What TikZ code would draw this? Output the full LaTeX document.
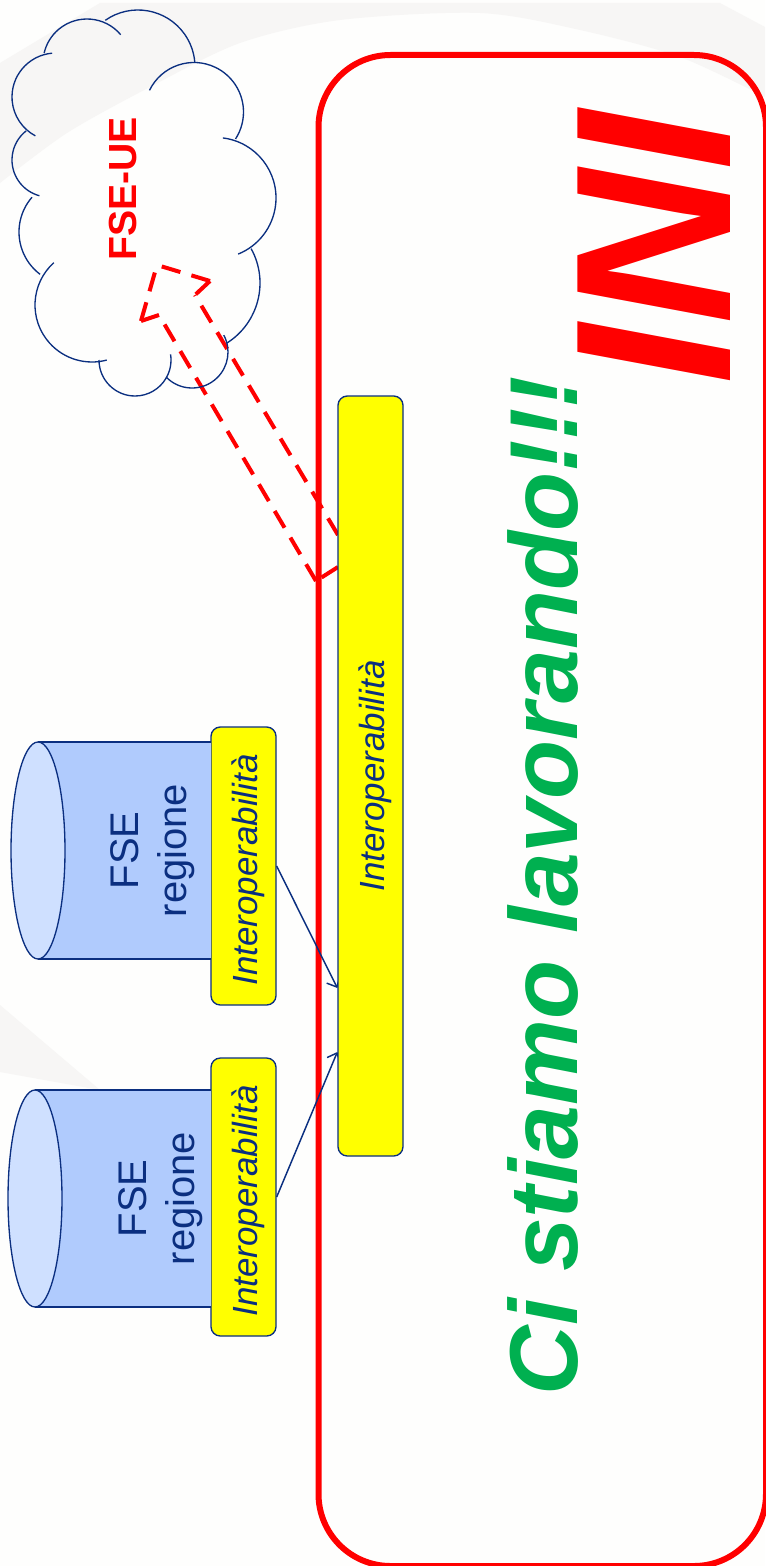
\documentclass[tikz,border=0pt]{standalone}
\usepackage{fontspec}
\setmainfont{Liberation Sans}
\usetikzlibrary{positioning,calc,arrows.meta,backgrounds}
\definecolor{navy}{HTML}{0B2F80}
\definecolor{swoosh}{HTML}{F7F6F5}
\definecolor{paper}{HTML}{FEFEFD}
\definecolor{cylbody}{HTML}{B0CBFD}
\definecolor{cylcap}{HTML}{CFE0FF}
\definecolor{workgreen}{HTML}{00B050}
\definecolor{boxyellow}{HTML}{FFFF00}
\definecolor{brightred}{HTML}{FF0000}
\tikzset{
bridge/.style={
  draw=navy,
  fill=boxyellow,
  line width=1pt,
  rounded corners=7pt,
  rotate=90,
  inner sep=0pt,
  text=navy,
  text height=26.5pt,
  font=\fontsize{26.2}{30}\selectfont\itshape,
  minimum height=48.75pt
  },
regiontext/.style={
  rotate=90,
  align=center,
  text=navy,
  font=\fontsize{30}{36}\selectfont
  },
puff/.style={draw=navy,line width=1pt},
link/.style={draw=navy,line width=1.1pt,-{Straight Barb[length=6pt,width=11pt]}},
fatdash/.style={brightred,line width=3pt,dash pattern=on 14.6pt off 8.6pt},
}

\begin{document}
\begin{tikzpicture}[x=.75pt,y=.75pt]
    \useasboundingbox (0,0) rectangle (765,-1566);

    % small boxes and the main one
    \node [bridge,minimum width=208.5pt] (bridge1) at (243.5,-866) {Interoperabilità\kern6pt};
    \node [bridge,minimum width=208.5pt] (bridge2) at (243.5,-1197) {Interoperabilità\kern6pt};
    \node [bridge,minimum width=570pt] (central) at (370.5,-776) {Interoperabilità};

    % the two regional stores
    \foreach \cx/\cy/\tx/\i in {38/-850.5/153/1, 35/-1198.5/161/2}
    {
        \fill [cylbody] (\cx,\cy+108.5) rectangle (211,\cy-108.5);
        \draw [navy,line width=1pt] (\cx,\cy+108.5) -- (211,\cy+108.5);
        \draw [navy,line width=1pt] (\cx,\cy-108.5) -- (211,\cy-108.5);
        \draw [navy,fill=cylcap,line width=1pt] (\cx,\cy) ellipse (27 and 108.5);
        \node [regiontext] (store\i) at (\tx,\cy) {FSE\\regione};
    }

    \node [rotate=90,text=brightred,font=\fontsize{29.4}{32}\selectfont\bfseries] (fseue) at (123,-189) {FSE-UE};
    \node [rotate=90,text=workgreen,font=\fontsize{72.4}{80}\selectfont\bfseries\itshape] (working) at (543,-885.5) {Ci stiamo lavorando!!!};
    \node [xscale=1.04,rotate=90,text=brightred,font=\fontsize{160}{170}\selectfont\bfseries\itshape] (ini) at (654,-248) {INI};

    % cloud, one arc per puff
    \foreach \cx/\cy/\r/\s/\e in {
        138/-67/57/125/5, 87/-63/44/40/167, 56/-97/44/95/242,
        49/-160/37/128/255, 72/-232/53/139/233, 92/-305/57/132/285,
        135/-360/36/180/369, 192/-352/36/224/388, 189/-283/71/-58/29,
        215.5/-198/60.5/83/-68, 194/-112/49.5/154/-33}
    {
        \draw [puff] (\cx,\cy) ++(\s:\r) arc (\s:\e:\r);
    }

    \begin{scope}[on background layer]
        \fill [paper] (0,0) rectangle (765,-1566);
        \fill [swoosh] (100,-3) -- (720,-3) -- (765,-27)
            -- plot [smooth] coordinates {(765,-97) (680,-57) (580,-30) (480,-13) (340,-20) (240,-43) (150,-87) (67,-133) (0,-183)}
            -- (0,-63) -- cycle;
        \fill [swoosh] (0,-1005) -- (100,-1090) -- (0,-1072) -- cycle;
        \draw [brightred,line width=4.5pt,rounded corners=54pt] (318.5,-55) rectangle (766,-1566);
        % outline of the wide arrow, side by side
        \foreach \ax/\ay/\bx/\by in {
            338/-535/195/-295, 210/-281/195/-295, 210/-281/157/-265,
            141/-321/157/-265, 141/-321/159/-315, 316/-581/159/-315,
            338/-567/316/-581}
        {
            \draw [fatdash] (\ax,\ay) -- (\bx,\by);
        }
        \draw [link] (bridge1.south) -- ($(central.north)+(0,-212)$);
        \draw [link] (bridge2.south) -- ($(central.north)+(0,-276)$);
    \end{scope}
\end{tikzpicture}
\end{document}
